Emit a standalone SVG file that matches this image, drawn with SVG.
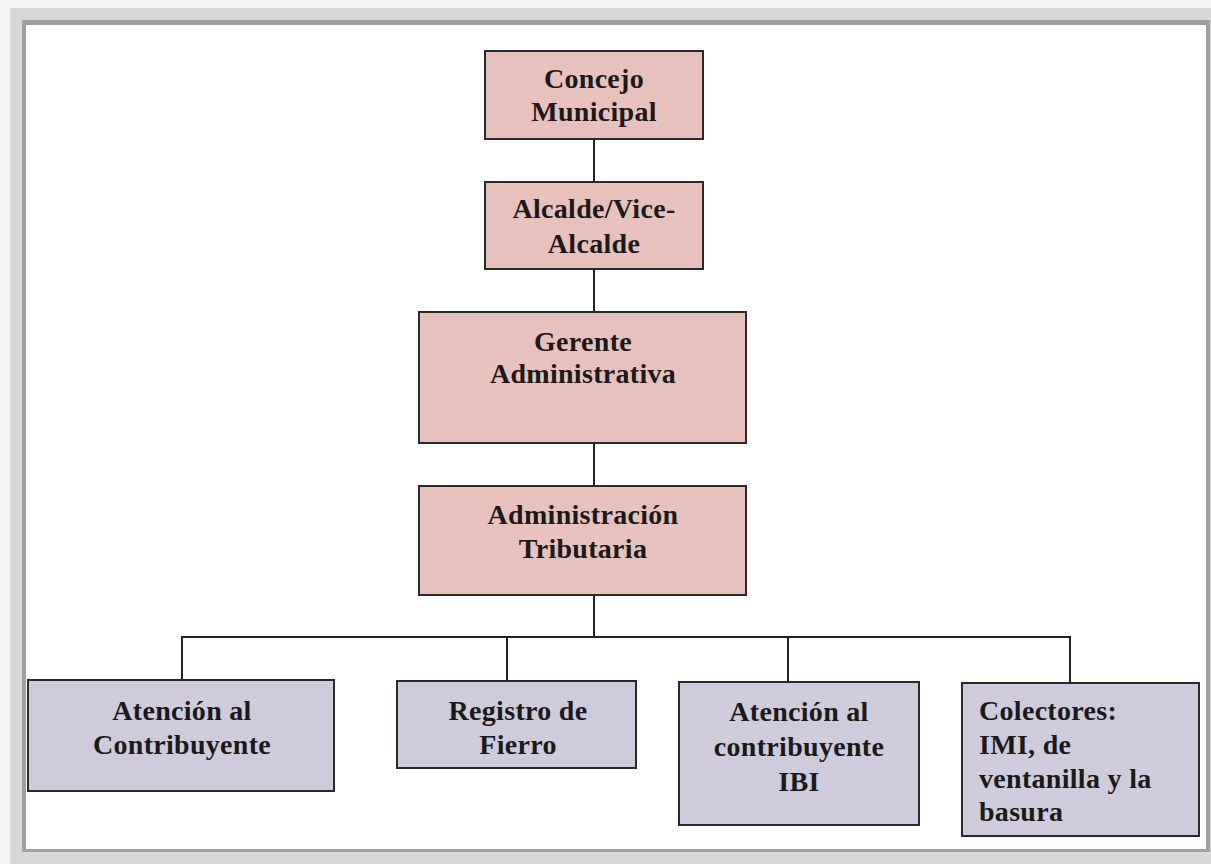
<svg xmlns="http://www.w3.org/2000/svg" width="1211" height="864" viewBox="0 0 1211 864">
<style>
.pink{fill:#e7c2bd;stroke:#2a2a2a;stroke-width:2}
.lav{fill:#cfcbdd;stroke:#2a2a2a;stroke-width:2}
.t{font-family:"Liberation Serif","Times New Roman",serif;font-weight:bold;font-size:28px;fill:#1a1a1a;text-anchor:middle;letter-spacing:0.3px}
.tl{font-family:"Liberation Serif","Times New Roman",serif;font-weight:bold;font-size:28px;fill:#1a1a1a;text-anchor:start;letter-spacing:0.3px}
.c{stroke:#222;stroke-width:2;fill:none}
</style>
<g id="frame">
<rect x="0" y="0" width="1211" height="864" fill="#f5f5f5"/>
<rect x="10" y="8" width="1201" height="856" fill="#d8d8d8"/>
<rect x="22" y="20" width="1188" height="832" fill="#a0a0a0"/>
<rect x="26" y="25" width="1180" height="824" fill="#ffffff"/>
</g>
<g id="connectors">
<line class="c" x1="594" y1="139" x2="594" y2="182"/>
<line class="c" x1="594" y1="269" x2="594" y2="312"/>
<line class="c" x1="594" y1="443" x2="594" y2="486"/>
<line class="c" x1="594" y1="595" x2="594" y2="637"/>
<polyline class="c" points="182,680 182,637 1070,637 1070,683"/>
<line class="c" x1="507" y1="637" x2="507" y2="681"/>
<line class="c" x1="788" y1="637" x2="788" y2="682"/>
</g>
<g id="concejo">
<rect class="pink" x="485" y="51" width="218" height="88"/>
<text class="t" x="594" y="88">Concejo</text>
<text class="t" x="594" y="121">Municipal</text>
</g>
<g id="alcalde">
<rect class="pink" x="485" y="182" width="218" height="87"/>
<text class="t" x="594" y="218">Alcalde/Vice-</text>
<text class="t" x="594" y="253">Alcalde</text>
</g>
<g id="gerente">
<rect class="pink" x="419" y="312" width="327" height="131"/>
<text class="t" x="583" y="351">Gerente</text>
<text class="t" x="583" y="383">Administrativa</text>
</g>
<g id="admin-tributaria">
<rect class="pink" x="419" y="486" width="327" height="109"/>
<text class="t" x="583" y="524">Administración</text>
<text class="t" x="583" y="558">Tributaria</text>
</g>
<g id="atencion">
<rect class="lav" x="28" y="680" width="306" height="111"/>
<text class="t" x="182" y="720">Atención al</text>
<text class="t" x="182" y="754">Contribuyente</text>
</g>
<g id="registro">
<rect class="lav" x="397" y="681" width="239" height="87"/>
<text class="t" x="518" y="720">Registro de</text>
<text class="t" x="518" y="754">Fierro</text>
</g>
<g id="atencion-ibi">
<rect class="lav" x="679" y="682" width="240" height="143"/>
<text class="t" x="799" y="721">Atención al</text>
<text class="t" x="799" y="756">contribuyente</text>
<text class="t" x="799" y="791">IBI</text>
</g>
<g id="colectores">
<rect class="lav" x="962" y="683" width="237" height="153"/>
<text class="tl" x="979" y="720">Colectores:</text>
<text class="tl" x="979" y="754">IMI, de</text>
<text class="tl" x="979" y="788">ventanilla y la</text>
<text class="tl" x="979" y="821">basura</text>
</g>
</svg>
